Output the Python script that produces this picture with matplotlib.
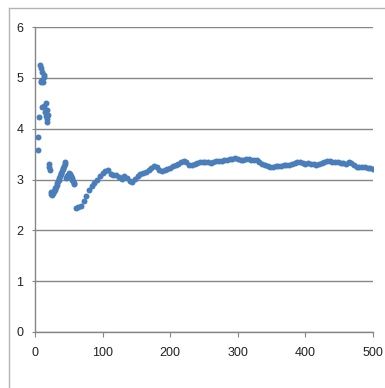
import numpy as np
import matplotlib
matplotlib.use("Agg")
import matplotlib.pyplot as plt
from matplotlib.lines import Line2D

plt.rcParams['font.family'] = ['Liberation Sans Narrow', 'Liberation Sans', 'DejaVu Sans']

# first few scattered points
x_start = [4, 4.9, 5.9, 7.4, 8.9, 10.8, 13.3, 13.8, 12.3, 11, 9.6, 8.4,
           9.9, 14, 15.8, 15.2, 16.3, 17.3, 17.8, 19.7, 17.3]
y_start = [3.84, 3.58, 4.23, 5.25, 5.19, 5.12, 5.06, 5.02, 4.92, 4.96, 4.94, 4.92,
           4.42, 4.45, 4.50, 4.32, 4.25, 4.37, 4.20, 4.27, 4.13]

# dense part 20..58
x_mid = list(range(20, 59))
y_mid = [3.30, 3.25, 3.19, 2.76, 2.72, 2.70, 2.74, 2.73, 2.78, 2.80,
         2.84, 2.86, 2.90, 2.93, 2.97, 3.00, 3.03, 3.07, 3.10, 3.13,
         3.16, 3.20, 3.23, 3.27, 3.31, 3.35, 3.02, 3.04, 3.06, 3.09,
         3.11, 3.12, 3.10, 3.06, 3.02, 3.00, 2.97, 2.94, 2.92]

# main trace 60..500
x_main = list(range(60, 501, 4))
y_main = [2.44, 2.46, 2.48, 2.58, 2.68, 2.79, 2.87, 2.93, 3.00, 3.06,
          3.12, 3.17, 3.19, 3.11, 3.09, 3.08, 3.05, 3.01, 3.07, 3.02,
          2.98, 2.96, 3.01, 3.07, 3.10, 3.13, 3.14, 3.18, 3.22, 3.27,
          3.25, 3.18, 3.16, 3.18, 3.20, 3.23, 3.27, 3.29, 3.31, 3.34,
          3.37, 3.35, 3.29, 3.29, 3.31, 3.32, 3.34, 3.35, 3.35, 3.34,
          3.33, 3.35, 3.36, 3.36, 3.37, 3.38, 3.39, 3.40, 3.41, 3.43,
          3.41, 3.39, 3.38, 3.40, 3.41, 3.39, 3.38, 3.39, 3.35, 3.31,
          3.29, 3.27, 3.25, 3.25, 3.26, 3.27, 3.27, 3.29, 3.29, 3.28,
          3.30, 3.32, 3.35, 3.34, 3.32, 3.31, 3.32, 3.31, 3.30, 3.29,
          3.31, 3.33, 3.35, 3.37, 3.37, 3.35, 3.34, 3.34, 3.33, 3.32,
          3.31, 3.34, 3.33, 3.28, 3.25, 3.25, 3.24, 3.25, 3.23, 3.22,
          3.21]

xs = x_start + x_mid + x_main
ys = y_start + y_mid + y_main

W, H = 385, 388
fig = plt.figure(figsize=(W / 100, H / 100), dpi=100)
ax = fig.add_axes([35 / W, (H - 332) / H, 338 / W, 305 / H])

gray = '#868686'
ax.plot(xs, ys, linestyle='none', marker='o', ms=4.3, mew=0, color='#4A7EBB', zorder=3)

ax.set_xlim(0, 500)
ax.set_ylim(0, 6)
ax.set_xticks(range(0, 501, 100))
ax.set_yticks(range(0, 7))
ax.grid(axis='y', color=gray, lw=1)
ax.set_axisbelow(True)
for s in ['top', 'right']:
    ax.spines[s].set_visible(False)
for s in ['left', 'bottom']:
    ax.spines[s].set_color(gray)
    ax.spines[s].set_linewidth(1)
ax.tick_params(axis='y', direction='out', length=2.5, color=gray, pad=6, labelsize=9, labelcolor='#222222')
ax.tick_params(axis='x', direction='out', length=3.5, color=gray, pad=7, labelsize=9, labelcolor='#222222')

# outer chart border (left and top edges)
bx, by = 9 / W, 1 - 8 / H
fig.add_artist(Line2D([bx, bx], [0, by], transform=fig.transFigure, color='#b4b4b4', lw=1))
fig.add_artist(Line2D([bx, 1], [by, by], transform=fig.transFigure, color='#b4b4b4', lw=1))

fig.savefig('out.png', dpi=100)
